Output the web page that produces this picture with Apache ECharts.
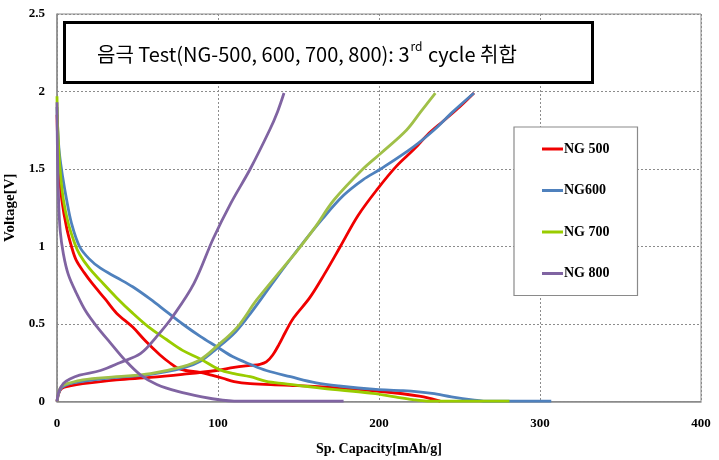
<!DOCTYPE html>
<html><head><meta charset="utf-8">
<script src="https://cdn.jsdelivr.net/npm/echarts@6/dist/echarts.min.js"></script>
<style>html,body{margin:0;padding:0;background:#fff}#c{width:719px;height:460px}</style>
</head><body><div id="c"></div>
<script>
const seriesNames = ['NG 500', 'NG600', 'NG 700', 'NG 800'];
const titleMain = '음극 Test(NG-500, 600, 700, 800): 3';
const titleSup = 'rd';
const titleTail = ' cycle 취합';
const xAxisName = 'Sp. Capacity[mAh/g]';
const yAxisName = 'Voltage[V]';

// discharge (voltage falling) and charge (voltage rising) curves: [capacity, voltage]
const ng500Discharge = [[0,1.85],[0.5,1.65],[1.2,1.5],[3,1.3],[6,1.12],[9,1.0],[12,0.91],[17,0.83],[22,0.76],[30,0.66],[37,0.57],[47,0.48],[55,0.39],[64,0.3],[70,0.25],[75,0.215],[80,0.2],[89,0.188],[96,0.17],[103,0.15],[110,0.128],[120,0.115],[141,0.106],[172,0.09],[203,0.063],[225,0.035],[234,0.014],[238,0.003]];
const ng500Charge = [[0,0],[1,0.05],[3,0.085],[8,0.1],[16,0.115],[37,0.14],[58,0.155],[78,0.175],[99,0.2],[110,0.22],[120,0.233],[126,0.24],[130,0.255],[134,0.3],[138,0.37],[142,0.45],[147,0.54],[157,0.67],[166,0.82],[176,1.0],[187,1.2],[199,1.37],[211,1.52],[222,1.63],[230,1.72],[240,1.81],[250,1.9],[259,1.99]];
const ng600Discharge = [[0,1.9],[0.5,1.75],[1.5,1.6],[3.5,1.45],[6,1.3],[9,1.15],[14,1.0],[20,0.92],[27,0.86],[37,0.8],[47,0.74],[58,0.66],[68,0.58],[78,0.5],[89,0.42],[99,0.355],[109,0.29],[120,0.24],[130,0.2],[145,0.16],[161,0.12],[175,0.1],[198,0.078],[215,0.07],[233,0.052],[245,0.03],[258,0.01],[265,0.003],[307,0.003]];
const ng600Charge = [[0,0],[1,0.05],[3,0.09],[8,0.115],[16,0.13],[37,0.155],[58,0.175],[78,0.215],[89,0.26],[99,0.34],[111,0.45],[121,0.58],[135,0.78],[151,1.0],[165,1.18],[178,1.33],[190,1.43],[201,1.5],[221,1.64],[234,1.75],[246,1.87],[259,1.99]];
const ng700Discharge = [[0,1.97],[0.5,1.75],[1.9,1.5],[4,1.3],[7,1.15],[11,1.02],[14,0.95],[20,0.86],[27,0.78],[37,0.67],[47,0.57],[57,0.48],[68,0.4],[78,0.33],[89,0.275],[101,0.205],[110,0.18],[120,0.16],[130,0.13],[141,0.115],[165,0.085],[196,0.053],[210,0.03],[221,0.012],[230,0.003],[281,0.003]];
const ng700Charge = [[0,0],[1,0.06],[3,0.1],[8,0.12],[16,0.14],[37,0.16],[58,0.18],[78,0.225],[89,0.27],[99,0.354],[112,0.48],[124,0.655],[141,0.87],[149,0.97],[160,1.12],[172,1.3],[190,1.5],[201,1.6],[217,1.75],[226,1.87],[235,1.99]];
const ng800Discharge = [[0,1.93],[0.3,1.6],[1,1.3],[2,1.1],[4,0.95],[7,0.82],[12,0.7],[18,0.58],[25,0.48],[33,0.38],[42,0.27],[52,0.17],[62,0.11],[75,0.065],[90,0.03],[103,0.008],[110,0.003],[178,0.003]];
const ng800Charge = [[0,0],[1,0.06],[4,0.117],[8,0.145],[14,0.17],[27,0.2],[39,0.25],[52,0.31],[62,0.42],[72,0.55],[85,0.76],[97,1.05],[108,1.28],[120,1.5],[132,1.75],[137,1.87],[141,1.99]];

const colors = ['#f00000', '#4f81bd', '#99cc00', '#8064a2'];
const chargeColors = ['#f00000', '#4f81bd', '#a0c048', '#8064a2'];
const curves = [[ng500Discharge, ng500Charge],[ng600Discharge, ng600Charge],[ng700Discharge, ng700Charge],[ng800Discharge, ng800Charge]];

const serif = '"Liberation Serif","Times New Roman",serif';
const series = [];
curves.forEach((pair, i) => {
  pair.forEach((d, k) => {
    series.push({
      name: seriesNames[i], type: 'line', data: d, showSymbol: false, symbol: 'none',
      smooth: 0.35,
      lineStyle: { width: 2.8, color: k === 0 ? colors[i] : chargeColors[i] },
      itemStyle: { color: colors[i] }, z: 2
    });
  });
});

const chart = echarts.init(document.getElementById('c'), null, { renderer: 'canvas' });
chart.setOption({
  animation: false,
  backgroundColor: '#fff',
  grid: { left: 57, right: 18, top: 14, bottom: 58.5, containLabel: false, outerBoundsMode: 'none',
    show: true, borderColor: '#8a8a8a', borderWidth: 1, backgroundColor: 'transparent' },
  xAxis: {
    type: 'value', min: 0, max: 400, interval: 100,
    name: xAxisName, nameLocation: 'middle', nameGap: 41,
    nameTextStyle: { fontFamily: serif, fontWeight: 'bold', fontSize: 14, color: '#000' },
    axisLine: { show: true, lineStyle: { color: '#8a8a8a', width: 1.5 } },
    axisTick: { show: false },
    axisLabel: { fontFamily: serif, fontWeight: 'bold', fontSize: 13, color: '#000', margin: 16 },
    splitLine: { show: true, lineStyle: { color: '#8c8c8c', type: [2, 2], width: 1 } }
  },
  yAxis: {
    type: 'value', min: 0, max: 2.5, interval: 0.5,
    name: yAxisName, nameLocation: 'middle', nameGap: 38,
    nameTextStyle: { fontFamily: serif, fontWeight: 'bold', fontSize: 15, color: '#000' },
    axisLine: { show: true, lineStyle: { color: '#8a8a8a', width: 1.5 } },
    axisTick: { show: false },
    axisLabel: { fontFamily: serif, fontWeight: 'bold', fontSize: 13, color: '#000', margin: 12 },
    splitLine: { show: true, lineStyle: { color: '#8c8c8c', type: [2, 2], width: 1 } }
  },
  legend: {
    orient: 'vertical', left: 514, top: 127,
    data: seriesNames.map((n, i) => ({ name: n, itemStyle: { color: colors[i] } })),
    icon: 'rect', itemWidth: 21, itemHeight: 3, itemGap: 27.5,
    padding: [15, 28, 15, 28],
    backgroundColor: '#fff', borderColor: '#8a8a8a', borderWidth: 1.2,
    selectedMode: false,
    textStyle: { fontFamily: serif, fontWeight: 'bold', fontSize: 14, color: '#000', padding: [0, 0, 0, -4] }
  },
  graphic: [
    { type: 'rect', left: 63, top: 21, z: 100,
      shape: { width: 528, height: 60 },
      style: { fill: '#fff', stroke: '#000', lineWidth: 3 } },
    { type: 'text', left: 97, top: 40, z: 101,
      style: {
        text: '{m|' + titleMain + '}{s|' + titleSup + '}{m|' + titleTail + '}',
        rich: {
          m: { fontFamily: '"Noto Sans CJK KR","Noto Sans",sans-serif', fontSize: 20, fill: '#000', verticalAlign: 'bottom', lineHeight: 24 },
          s: { fontFamily: '"Noto Sans CJK KR","Noto Sans",sans-serif', fontSize: 12, fill: '#000', verticalAlign: 'top', lineHeight: 24, padding: [0, 1, 10, 1] }
        }
      } }
  ],
  series: series
});
</script>
</body></html>
